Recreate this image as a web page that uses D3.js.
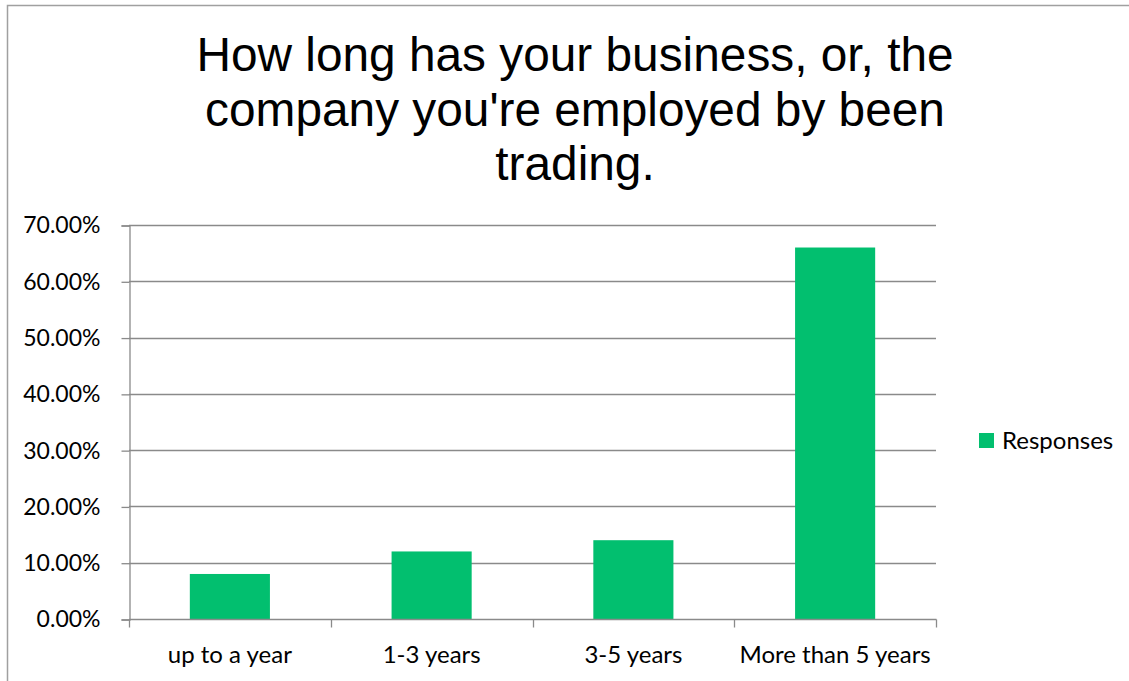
<!DOCTYPE html>
<html>
<head>
<meta charset="utf-8">
<script src="https://cdn.jsdelivr.net/npm/d3@7/dist/d3.min.js"></script>
<style>
  html, body { margin: 0; padding: 0; background: #fff; }
  svg { display: block; }
</style>
</head>
<body>
<svg id="chart" width="1129" height="681"></svg>
<script>
const titleLines = ["How long has your business, or, the", "company you're employed by been", "trading."];
const categories = ["up to a year", "1-3 years", "3-5 years", "More than 5 years"];
const responses = [0.08, 0.12, 0.14, 0.66];
const seriesName = "Responses";
const yTicks = [0, 0.1, 0.2, 0.3, 0.4, 0.5, 0.6, 0.7];

const svg = d3.select("#chart");
const W = 1129, H = 681;
const plot = { left: 129, right: 936, top: 225, bottom: 619 };
const green = "#02bf6f";
const gridColor = "#8a8a8a";
const labelFont = "Lato, 'Open Sans', sans-serif";

// outer frame (partial, cropped)
svg.append("path")
  .attr("d", `M7.5,${H} L7.5,5.5 L${W},5.5`)
  .attr("fill", "none").attr("stroke", "#a0a0a0").attr("stroke-width", 1.5);

// title
const title = svg.append("text")
  .attr("text-anchor", "middle")
  .attr("font-family", "'Liberation Sans', Arial, sans-serif")
  .attr("font-size", 47.8)
  .attr("fill", "#000");
const baselines = [71, 125.5, 180];
titleLines.forEach((t, i) => {
  title.append("tspan").attr("x", 575).attr("y", baselines[i]).text(t);
});

const x = d3.scaleBand().domain(categories).range([plot.left, plot.right]).padding(0);
const y = d3.scaleLinear().domain([0, 0.7]).range([plot.bottom, plot.top]);

// gridlines
svg.append("g").selectAll("line").data(yTicks.slice(1)).join("line")
  .attr("x1", plot.left).attr("x2", plot.right)
  .attr("y1", d => Math.round(y(d)) + 0.5).attr("y2", d => Math.round(y(d)) + 0.5)
  .attr("stroke", gridColor).attr("stroke-width", 1.3);

// bars
const barFrac = 0.397;
svg.append("g").selectAll("rect").data(categories).join("rect")
  .attr("x", (d) => x(d) + x.bandwidth() * (1 - barFrac) / 2)
  .attr("width", x.bandwidth() * barFrac)
  .attr("y", (d, i) => y(responses[i]))
  .attr("height", (d, i) => y(0) - y(responses[i]))
  .attr("fill", green);

// y axis
const yAxis = d3.axisLeft(y).tickValues(yTicks).tickFormat(d3.format(".2%")).tickSize(8).tickPadding(21);
const gy = svg.append("g").attr("transform", `translate(${plot.left + 0.5},0.5)`).call(yAxis);
gy.select(".domain").attr("stroke", gridColor).attr("stroke-width", 1.3);
gy.selectAll(".tick line").attr("stroke", gridColor).attr("stroke-width", 1.3);
gy.selectAll(".tick text")
  .attr("font-family", labelFont).attr("font-size", 23).attr("fill", "#000");

// x axis
const gx = svg.append("g").attr("transform", `translate(0,${plot.bottom + 0.5})`);
gx.append("line").attr("x1", plot.left).attr("x2", plot.right + 0.5)
  .attr("stroke", gridColor).attr("stroke-width", 1.3);
const boundaries = categories.map(c => x(c)).concat([x(categories[categories.length - 1]) + x.bandwidth()]);
gx.selectAll("line.tk").data(boundaries).join("line").attr("class", "tk")
  .attr("x1", d => Math.round(d) + 0.5).attr("x2", d => Math.round(d) + 0.5)
  .attr("y1", 0).attr("y2", 8)
  .attr("stroke", gridColor).attr("stroke-width", 1.3);
gx.selectAll("text").data(categories).join("text")
  .attr("x", d => x(d) + x.bandwidth() / 2)
  .attr("y", 662 - plot.bottom)
  .attr("text-anchor", "middle")
  .attr("font-family", labelFont).attr("font-size", 24).attr("fill", "#000")
  .text(d => d);

// legend
const lg = svg.append("g").attr("transform", "translate(979,433)");
lg.append("rect").attr("width", 15).attr("height", 15).attr("fill", green);
lg.append("text").attr("x", 23).attr("y", 16)
  .attr("font-family", labelFont).attr("font-size", 24).attr("fill", "#000")
  .text(seriesName);
</script>
</body>
</html>
